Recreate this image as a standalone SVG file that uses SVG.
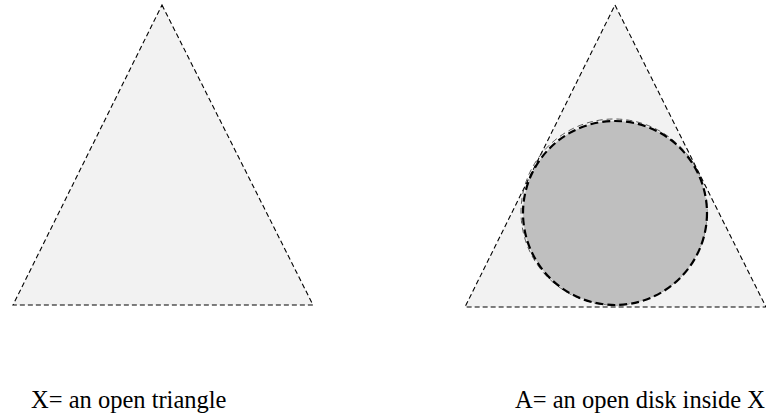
<svg xmlns="http://www.w3.org/2000/svg" width="766" height="414" viewBox="0 0 766 414">
<style>
.tri{fill:#f2f2f2;stroke:#000;stroke-width:1.1;stroke-dasharray:5 3}
.disk{fill:#bfbfbf;stroke:#000;stroke-width:2.2;stroke-dasharray:8 4}
.thin{fill:none;stroke:#333;stroke-width:0.8;stroke-dasharray:6 4}
.lbl{font-family:"Liberation Serif",serif;font-size:24.5px;fill:#000}
</style>
<rect width="766" height="414" fill="#fff"/>
<g id="X">
<polygon class="tri" points="162,5 313,305 13,305"/>
</g>
<g id="XA">
<polygon class="tri" points="615,5 766,307 465,307"/>
</g>
<g id="A">
<circle class="thin" cx="614" cy="212" r="93"/>
<circle class="disk" cx="615" cy="213" r="92"/>
</g>
<g id="connectors"/>
<text class="lbl" x="31" y="408">X= an open triangle</text>
<text class="lbl" x="515" y="408">A= an open disk inside X</text>
</svg>
